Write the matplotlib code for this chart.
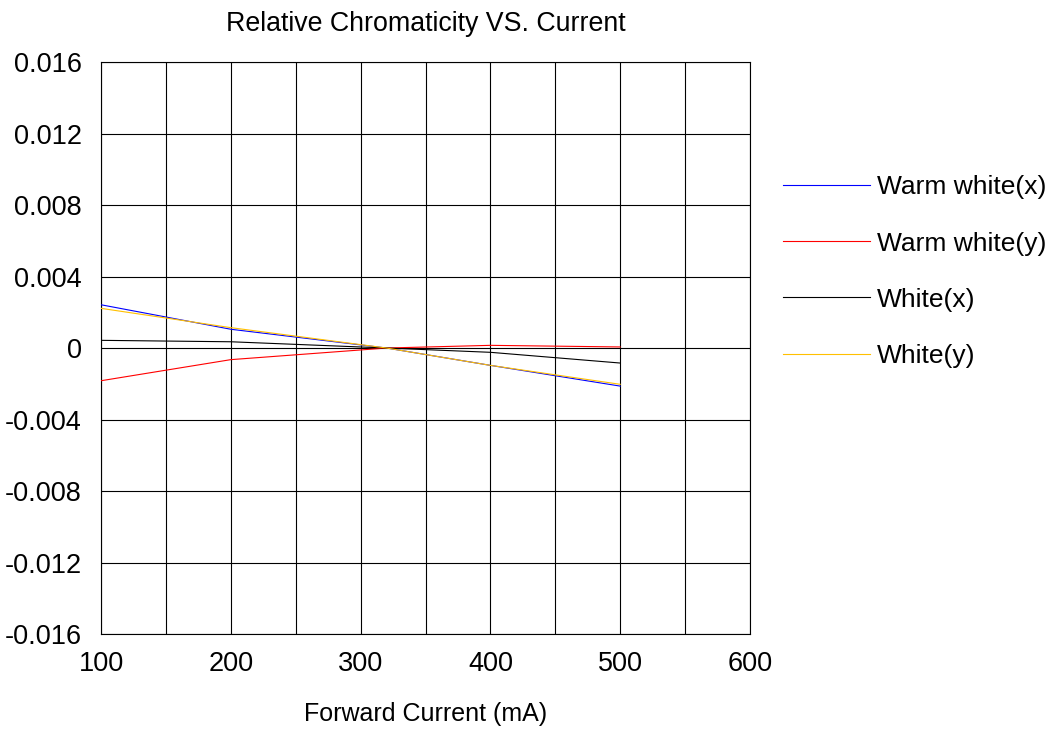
import matplotlib
matplotlib.use("Agg")
import matplotlib.pyplot as plt

# forward current (mA) and relative chromaticity shift
current = [100, 200, 320, 400, 500]
warm_x = [0.00242, 0.00105, 0.0, -0.00097, -0.00213]
warm_y = [-0.00183, -0.00065, 0.0, 0.00015, 0.00006]
white_x = [0.00043, 0.00035, 0.0, -0.00024, -0.00084]
white_y = [0.00222, 0.00114, 0.0, -0.00097, -0.00203]

series = [
    ("Warm white(x)", warm_x, "#0000ff"),
    ("Warm white(y)", warm_y, "#ff0000"),
    ("White(x)", white_x, "#000000"),
    ("White(y)", white_y, "#ffc000"),
]

xticks = [100, 200, 300, 400, 500, 600]
yticks = [0.016, 0.012, 0.008, 0.004, 0, -0.004, -0.008, -0.012, -0.016]
ylabels = ["0.016", "0.012", "0.008", "0.004", "0", "-0.004", "-0.008", "-0.012", "-0.016"]

plt.rcParams["font.family"] = ["Liberation Sans", "DejaVu Sans"]

fig = plt.figure(figsize=(10.59, 7.29), dpi=100)
ax = fig.add_axes([0.0954, 0.1303, 0.6128, 0.7846])

for label, vals, col in series:
    ax.plot(current, vals, color=col, lw=0.8, label=label, zorder=3)

ax.set_xlim(100, 600)
ax.set_ylim(-0.016, 0.016)
ax.set_xticks(xticks)
ax.set_xticks(range(150, 600, 100), minor=True)
ax.set_yticks(yticks)
ax.set_yticklabels(ylabels)
ax.grid(True, which="both", color="black", lw=0.8)
ax.tick_params(which="both", length=0, labelsize=19.5)
ax.tick_params(axis="y", pad=14)
ax.tick_params(axis="x", pad=12)
for s in ax.spines.values():
    s.set_color("black")
    s.set_linewidth(0.8)

ax.set_title("Relative Chromaticity VS. Current", fontsize=19.3, pad=22)
ax.set_xlabel("Forward Current (mA)", fontsize=18, labelpad=18)

ax.legend(loc="upper left", bbox_to_anchor=(0.7295, 0.774), bbox_transform=fig.transFigure,
          frameon=False, fontsize=19, handlelength=3.3, handletextpad=0.25,
          labelspacing=1.22, borderaxespad=0)

fig.savefig("out.png", dpi=100)
